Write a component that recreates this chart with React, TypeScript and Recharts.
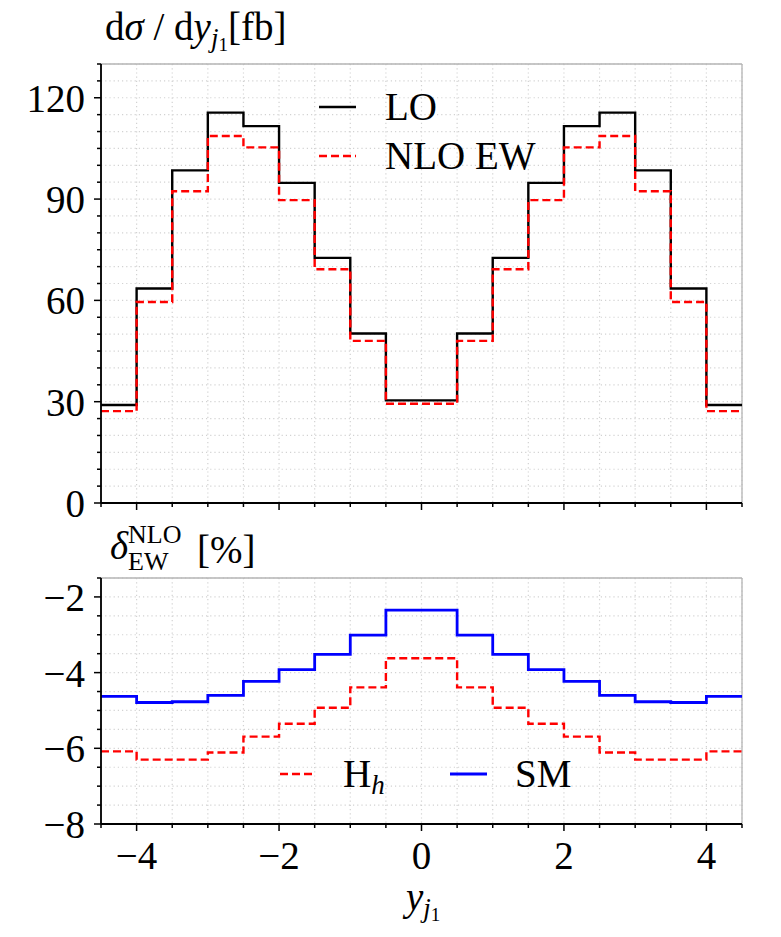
import { CartesianGrid, Legend, Line, LineChart, XAxis, YAxis } from 'recharts'

// bin edges of y_j1 and per-bin values (18 bins, 0.5 wide)
const edges = [-4.5, -4, -3.5, -3, -2.5, -2, -1.5, -1, -0.5, 0, 0.5, 1, 1.5, 2, 2.5, 3, 3.5, 4, 4.5]
const lo = [29, 63.5, 98.5, 115.6, 111.6, 94.8, 72.6, 50.2, 30.4, 30.4, 50.2, 72.6, 94.8, 111.6, 115.6, 98.5, 63.5, 29]
const nloEw = [27.2, 59.5, 92.3, 108.7, 105.3, 89.7, 69.2, 48.0, 29.4, 29.4, 48.0, 69.2, 89.7, 105.3, 108.7, 92.3, 59.5, 27.2]
const deltaHh = [-6.08, -6.3, -6.3, -6.11, -5.69, -5.35, -4.93, -4.39, -3.62, -3.62, -4.39, -4.93, -5.35, -5.69, -6.11, -6.3, -6.3, -6.08]
const deltaSm = [-4.63, -4.79, -4.77, -4.6, -4.23, -3.92, -3.52, -3.01, -2.35, -2.35, -3.01, -3.52, -3.92, -4.23, -4.6, -4.77, -4.79, -4.63]

const xMajor = [-4, -2, 0, 2, 4]
const topMajor = [0, 30, 60, 90, 120]
const botMajor = [-8, -6, -4, -2]

const FONT = '"Liberation Serif", "DejaVu Serif", serif'
const FS = 39

const steps = (from: number, to: number, step: number) => {
  const out: number[] = []
  for (let v = from; v <= to + 1e-9; v += step) out.push(Math.round(v * 1000) / 1000)
  return out
}
const xMinor = steps(-4.5, 4.5, 0.5)
const topMinor = steps(0, 130, 5)
const botMinor = steps(-8, -1.5, 0.5)

const isMajor = (v: number, majors: number[]) => majors.some((m) => Math.abs(m - v) < 1e-9)
const fmt = (v: number) => (v < 0 ? '\u2212' + Math.abs(v) : String(v))

// step histogram rows: value of bin i starts at its left edge, last edge repeats last bin
const histRows = edges.map((x, i) => {
  const k = Math.min(i, lo.length - 1)
  return { x, lo: lo[k], nlo: nloEw[k], hh: deltaHh[k], sm: deltaSm[k] }
})

function YTick({ x, y, payload, majors }: any) {
  const major = isMajor(payload.value, majors)
  return (
    <g>
      <line x1={x} x2={x - (major ? 7 : 4)} y1={y} y2={y} stroke="#000" strokeWidth={1.5} />
      {major && (
        <text x={x - 16} y={y + 14} textAnchor="end" fontSize={FS} fontFamily={FONT} fill="#000">
          {fmt(payload.value)}
        </text>
      )}
    </g>
  )
}

function XTick({ x, y, payload, labels }: any) {
  const major = isMajor(payload.value, xMajor)
  return (
    <g>
      <line x1={x} x2={x} y1={y} y2={y + (major ? 7 : 4)} stroke="#000" strokeWidth={1.5} />
      {major && labels && (
        <text x={x} y={y + 45} textAnchor="middle" fontSize={FS} fontFamily={FONT} fill="#000">
          {fmt(payload.value)}
        </text>
      )}
    </g>
  )
}

const spine = { stroke: '#000', strokeWidth: 1.8 }

function TopLegend() {
  return (
    <svg width={240} height={110} style={{ display: 'block' }}>
      <line x1={9} x2={46} y1={27} y2={27} stroke="#000" strokeWidth={2.4} />
      <text x={75} y={40} fontSize={FS} fontFamily={FONT}>LO</text>
      <line x1={9} x2={46} y1={76} y2={76} stroke="#ff0000" strokeWidth={2.4} strokeDasharray="8 4" />
      <text x={75} y={89} fontSize={FS} fontFamily={FONT}>NLO EW</text>
    </svg>
  )
}

function BottomLegend() {
  return (
    <svg width={320} height={50} style={{ display: 'block' }}>
      <line x1={10} x2={42} y1={24} y2={24} stroke="#ff0000" strokeWidth={2.4} strokeDasharray="8 4" />
      <text x={73} y={37} fontSize={FS} fontFamily={FONT}>
        H<tspan fontSize={27} fontStyle="italic" dy={7}>h</tspan>
      </text>
      <line x1={180} x2={217} y1={24} y2={24} stroke="#0000ff" strokeWidth={2.8} />
      <text x={245} y={37} fontSize={FS} fontFamily={FONT}>SM</text>
    </svg>
  )
}

function Panel({
  height,
  top,
  yDomain,
  yMinor,
  yMajor,
  xLabels,
  xAxisHeight,
  children,
  legend,
}: any) {
  return (
    <LineChart
      width={781}
      height={height}
      data={histRows}
      margin={{ top, right: 39, bottom: 0, left: 0 }}
    >
      <CartesianGrid stroke="#d2d2d2" strokeWidth={1.2} strokeDasharray="1.2 3" />
      <CartesianGrid xAxisId="maj" yAxisId="maj" stroke="#b4b4b4" strokeWidth={1.3} />
      <XAxis
        dataKey="x"
        type="number"
        domain={[-4.5, 4.5]}
        ticks={xMinor}
        interval={0}
        tickSize={0}
        tickMargin={0}
        height={xAxisHeight}
        axisLine={spine}
        tickLine={false}
        tick={<XTick labels={xLabels} />}
      />
      <YAxis
        type="number"
        domain={yDomain}
        ticks={yMinor}
        interval={0}
        tickSize={0}
        tickMargin={0}
        width={101}
        axisLine={spine}
        tickLine={false}
        tick={<YTick majors={yMajor} />}
      />
      <XAxis
        xAxisId="maj"
        orientation="top"
        type="number"
        dataKey="x"
        domain={[-4.5, 4.5]}
        ticks={xMajor}
        interval={0}
        height={0}
        tick={false}
        tickLine={false}
        axisLine={spine}
      />
      <YAxis
        yAxisId="maj"
        orientation="right"
        type="number"
        domain={yDomain}
        ticks={yMajor}
        interval={0}
        width={0}
        tick={false}
        tickLine={false}
        axisLine={spine}
      />
      {legend}
      {children}
    </LineChart>
  )
}

export default function App() {
  return (
    <div style={{ position: 'relative', width: 781, height: 937, margin: -8, background: '#fff', fontFamily: FONT }}>
      <div style={{ position: 'absolute', left: 0, top: 0 }}>
        <Panel
          height={530}
          top={64}
          yDomain={[0, 130]}
          yMinor={topMinor}
          yMajor={topMajor}
          xLabels={false}
          xAxisHeight={27}
          legend={
            <Legend
              verticalAlign="middle"
              align="center"
              content={() => <TopLegend />}
              wrapperStyle={{ left: 310, top: 80, width: 240 }}
            />
          }
        >
          <Line
            type="stepAfter"
            dataKey="lo"
            stroke="#000"
            strokeWidth={2.4}
            dot={false}
            activeDot={false}
            isAnimationActive={false}
          />
          <Line
            type="stepAfter"
            dataKey="nlo"
            stroke="#ff0000"
            strokeWidth={2.4}
            strokeDasharray="8 4"
            dot={false}
            activeDot={false}
            isAnimationActive={false}
          />
        </Panel>
      </div>
      <div style={{ position: 'absolute', left: 0, top: 530 }}>
        <Panel
          height={407}
          top={48}
          yDomain={[-8, -1.5]}
          yMinor={botMinor}
          yMajor={botMajor}
          xLabels={true}
          xAxisHeight={113}
          legend={
            <Legend
              verticalAlign="middle"
              align="center"
              content={() => <BottomLegend />}
              wrapperStyle={{ left: 270, top: 220, width: 320 }}
            />
          }
        >
          <Line
            type="stepAfter"
            dataKey="hh"
            stroke="#ff0000"
            strokeWidth={2.4}
            strokeDasharray="8 4"
            dot={false}
            activeDot={false}
            isAnimationActive={false}
          />
          <Line
            type="stepAfter"
            dataKey="sm"
            stroke="#0000ff"
            strokeWidth={2.8}
            dot={false}
            activeDot={false}
            isAnimationActive={false}
          />
        </Panel>
      </div>
      <svg
        width={781}
        height={937}
        style={{ position: 'absolute', left: 0, top: 0, pointerEvents: 'none' }}
        fontFamily={FONT}
      >
        <text x={105} y={40} fontSize={FS}>
          d<tspan fontStyle="italic">σ</tspan> / d<tspan fontStyle="italic">y</tspan>
          <tspan fontStyle="italic" fontSize={27} dy={7}>j</tspan>
          <tspan fontSize={19} dy={4}>1</tspan>
          <tspan fontSize={FS} dy={-11}>[fb]</tspan>
        </text>
        <text x={110} y={559} fontSize={FS} fontStyle="italic">δ</text>
        <text x={128} y={543} fontSize={26}>NLO</text>
        <text x={128} y={570} fontSize={26}>EW</text>
        <text x={197} y={563} fontSize={FS}>[%]</text>
        <text x={406} y={910} fontSize={FS}>
          <tspan fontStyle="italic">y</tspan>
          <tspan fontStyle="italic" fontSize={27} dy={7}>j</tspan>
          <tspan fontSize={19} dy={4}>1</tspan>
        </text>
      </svg>
    </div>
  )
}
